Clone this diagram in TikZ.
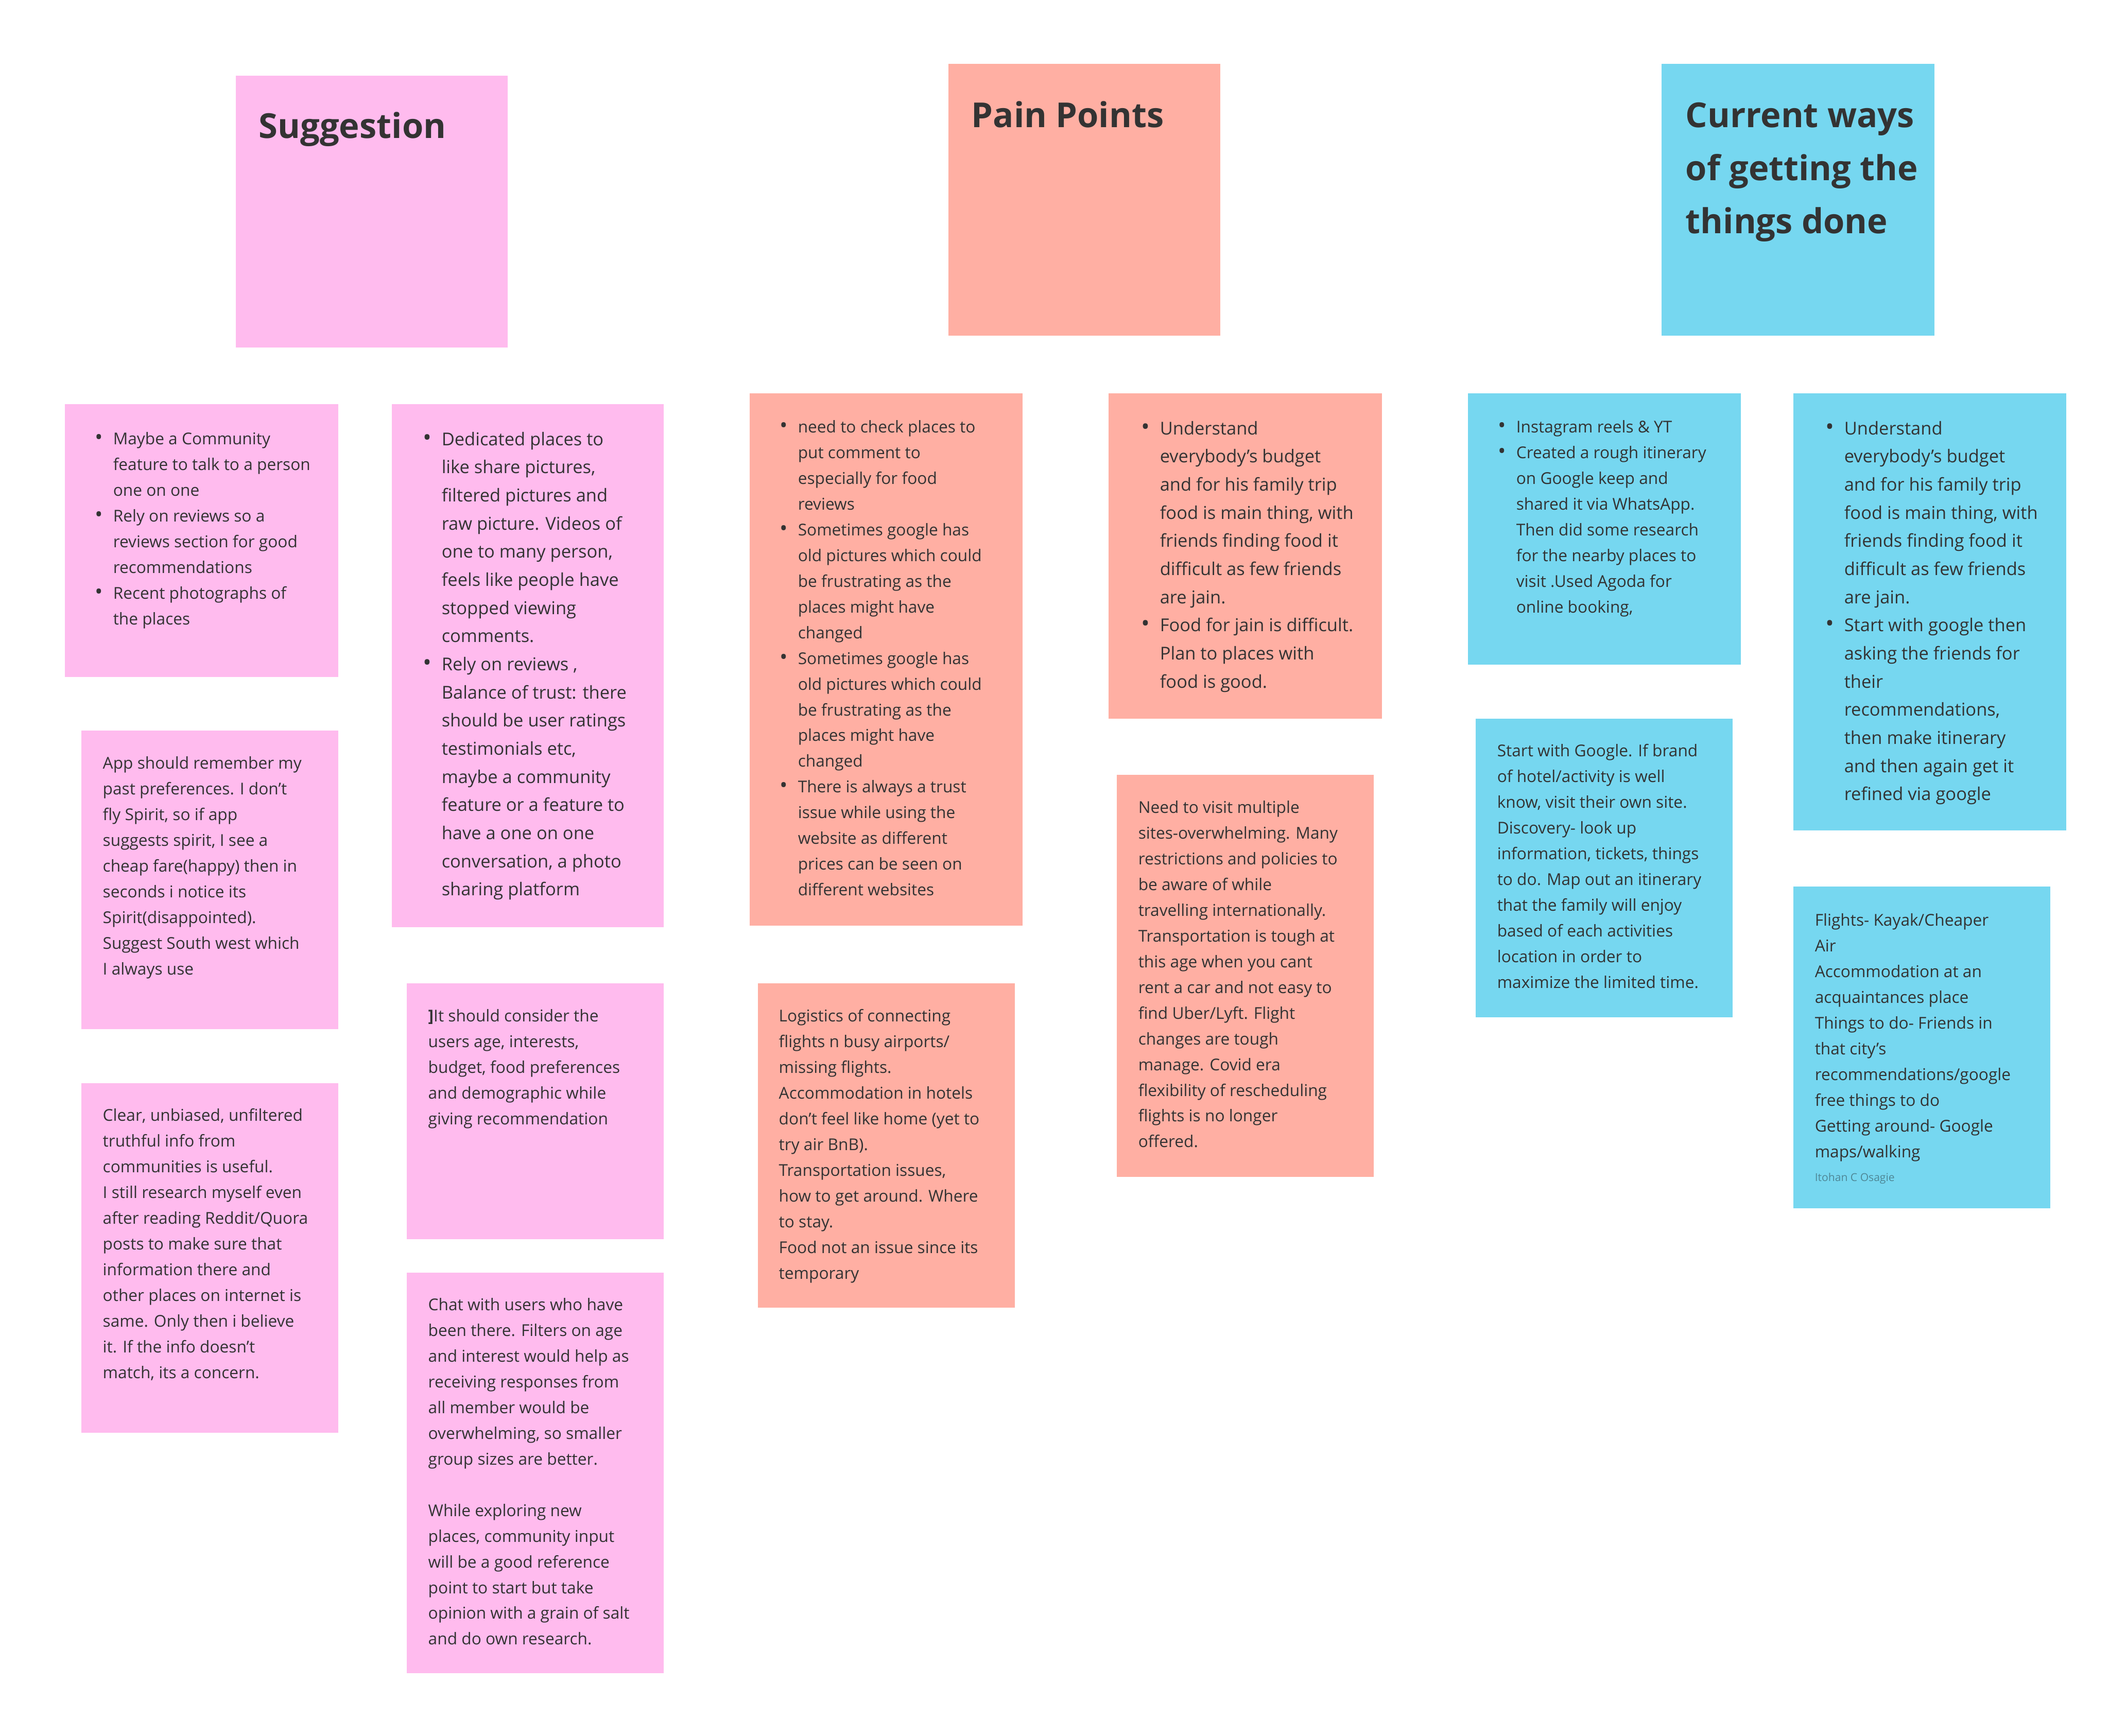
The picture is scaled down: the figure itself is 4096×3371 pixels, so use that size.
\documentclass[tikz,border=0pt]{standalone}
\usepackage{fontspec}
\setmainfont{Open Sans}
\usetikzlibrary{positioning}

\definecolor{stickypink}{HTML}{FFBBEE}
\definecolor{stickyred}{HTML}{FFAFA3}
\definecolor{stickyblue}{HTML}{76D7F0}
\definecolor{inkgray}{HTML}{333333}
\definecolor{creditgray}{HTML}{4E8796}

% bullet hanging left of the text column
\newcommand{\bul}{\makebox[0pt][r]{\scalebox{1.3}{\textbullet}\hspace{5.5pt}}}

\begin{document}
\begin{tikzpicture}[x=0.01cm, y=-0.01cm,
    sticky/.style={rectangle, anchor=north west, inner sep=0pt},
    note/.style={anchor=north west, inner sep=0pt, align=left, text=inkgray,
      font=\fontsize{9}{14.2}\selectfont},
    bignote/.style={note, font=\fontsize{9.8}{15.55}\selectfont},
    heading/.style={note, font=\fontsize{19}{29.3}\selectfont\bfseries},
    credit/.style={anchor=north west, inner sep=0pt, text=creditgray,
      font=\fontsize{6}{8}\selectfont}
  ]
  \useasboundingbox (0,0) rectangle (4096,3371);

  % headers
  \node[sticky, fill=stickypink, minimum width=5.28cm, minimum height=5.28cm] (sugg) at (457,146) {};
  \node[sticky, fill=stickyred, minimum width=5.28cm, minimum height=5.28cm] (pain) at (1841,123) {};
  \node[sticky, fill=stickyblue, minimum width=5.3cm, minimum height=5.28cm] (ways) at (3226,123) {};

  \node[heading, below right=0.50cm and 0.45cm of sugg.north west] (suggtext) {\strut Suggestion};
  \node[heading, below right=0.52cm and 0.45cm of pain.north west] (paintext) {\strut Pain Points};
  \node[heading, below right=0.52cm and 0.47cm of ways.north west] (waystext)
    {\strut Current ways\\of getting the\\things done};

  % suggestion column
  \node[sticky, fill=stickypink, minimum width=5.31cm, minimum height=5.3cm] (p1) at (125,784) {};
  \node[sticky, fill=stickypink, minimum width=5.28cm, minimum height=10.16cm] (p2) at (760,784) {};
  \node[sticky, fill=stickypink, minimum width=4.99cm, minimum height=5.8cm] (p3) at (157,1418) {};
  \node[sticky, fill=stickypink, minimum width=4.99cm, minimum height=6.79cm] (p4) at (157,2103) {};
  \node[sticky, fill=stickypink, minimum width=4.99cm, minimum height=4.97cm] (p5) at (789,1909) {};
  \node[sticky, fill=stickypink, minimum width=4.99cm, minimum height=7.78cm] (p6) at (789,2471) {};

  \node[note, below right=0.44cm and 0.94cm of p1.north west] (p1text)
    {\strut\bul Maybe a Community\\feature to talk to a person\\one on one\\
     \bul Rely on reviews so a\\reviews section for good\\recommendations\\
     \bul Recent photographs of\\the places};
  \node[bignote, below right=0.42cm and 0.97cm of p2.north west] (p2text)
    {\strut\bul Dedicated places to\\like share pictures,\\filtered pictures and\\raw picture. Videos of\\
     one to many person,\\feels like people have\\stopped viewing\\comments.\\
     \bul Rely on reviews ,\\Balance of trust: there\\should be user ratings\\testimonials etc,\\
     maybe a community\\feature or a feature to\\have a one on one\\conversation, a photo\\sharing platform};
  \node[note, below right=0.40cm and 0.42cm of p3.north west] (p3text)
    {\strut App should remember my\\past preferences. I don’t\\fly Spirit, so if app\\suggests spirit, I see a\\
     cheap fare(happy) then in\\seconds i notice its\\Spirit(disappointed).\\Suggest South west which\\I always use};
  \node[note, below right=0.39cm and 0.42cm of p4.north west] (p4text)
    {\strut Clear, unbiased, unfiltered\\truthful info from\\communities is useful.\\I still research myself even\\
     after reading Reddit/Quora\\posts to make sure that\\information there and\\other places on internet is\\
     same. Only then i believe\\it. If the info doesn’t\\match, its a concern.};
  \node[note, below right=0.40cm and 0.42cm of p5.north west] (p5text)
    {\strut\textbf{]}It should consider the\\users age, interests,\\budget, food preferences\\
     and demographic while\\giving recommendation};
  \node[note, below right=0.39cm and 0.42cm of p6.north west] (p6text)
    {\strut Chat with users who have\\been there. Filters on age\\and interest would help as\\
     receiving responses from\\all member would be\\overwhelming, so smaller\\group sizes are better.\\[14.2pt]
     While exploring new\\places, community input\\will be a good reference\\point to start but take\\
     opinion with a grain of salt\\and do own research.};

  % pain points column
  \node[sticky, fill=stickyred, minimum width=5.3cm, minimum height=10.34cm] (s1) at (1455,763) {};
  \node[sticky, fill=stickyred, minimum width=5.31cm, minimum height=6.32cm] (s2) at (2152,763) {};
  \node[sticky, fill=stickyred, minimum width=4.99cm, minimum height=7.81cm] (s3) at (2168,1504) {};
  \node[sticky, fill=stickyred, minimum width=4.99cm, minimum height=6.3cm] (s4) at (1471,1909) {};

  \node[note, below right=0.42cm and 0.94cm of s1.north west] (s1text)
    {\strut\bul need to check places to\\put comment to\\especially for food\\reviews\\
     \bul Sometimes google has\\old pictures which could\\be frustrating as the\\places might have\\changed\\
     \bul Sometimes google has\\old pictures which could\\be frustrating as the\\places might have\\changed\\
     \bul There is always a trust\\issue while using the\\website as different\\prices can be seen on\\different websites};
  \node[bignote, below right=0.42cm and 1.0cm of s2.north west] (s2text)
    {\strut\bul Understand\\everybody’s budget\\and for his family trip\\food is main thing, with\\
     friends finding food it\\difficult as few friends\\are jain.\\
     \bul Food for jain is difficult.\\Plan to places with\\food is good.};
  \node[note, below right=0.40cm and 0.42cm of s3.north west] (s3text)
    {\strut Need to visit multiple\\sites-overwhelming. Many\\restrictions and policies to\\be aware of while\\
     travelling internationally.\\Transportation is tough at\\this age when you cant\\rent a car and not easy to\\
     find Uber/Lyft. Flight\\changes are tough\\manage. Covid era\\flexibility of rescheduling\\
     flights is no longer\\offered.};
  \node[note, below right=0.40cm and 0.41cm of s4.north west] (s4text)
    {\strut Logistics of connecting\\flights n busy airports/\\missing flights.\\Accommodation in hotels\\
     don’t feel like home (yet to\\try air BnB).\\Transportation issues,\\how to get around. Where\\
     to stay.\\Food not an issue since its\\temporary};

  % current ways column
  \node[sticky, fill=stickyblue, minimum width=5.3cm, minimum height=5.27cm] (b1) at (2850,763) {};
  \node[sticky, fill=stickyblue, minimum width=5.3cm, minimum height=8.49cm] (b2) at (3482,763) {};
  \node[sticky, fill=stickyblue, minimum width=4.99cm, minimum height=5.8cm] (b3) at (2865,1395) {};
  \node[sticky, fill=stickyblue, minimum width=4.99cm, minimum height=6.25cm] (b4) at (3482,1721) {};

  \node[note, below right=0.42cm and 0.94cm of b1.north west] (b1text)
    {\strut\bul Instagram reels \& YT\\
     \bul Created a rough itinerary\\on Google keep and\\shared it via WhatsApp.\\Then did some research\\
     for the nearby places to\\visit .Used Agoda for\\online booking,};
  \node[bignote, below right=0.42cm and 0.99cm of b2.north west] (b2text)
    {\strut\bul Understand\\everybody’s budget\\and for his family trip\\food is main thing, with\\
     friends finding food it\\difficult as few friends\\are jain.\\
     \bul Start with google then\\asking the friends for\\their\\recommendations,\\
     then make itinerary\\and then again get it\\refined via google};
  \node[note, below right=0.39cm and 0.42cm of b3.north west] (b3text)
    {\strut Start with Google. If brand\\of hotel/activity is well\\know, visit their own site.\\
     Discovery- look up\\information, tickets, things\\to do. Map out an itinerary\\
     that the family will enjoy\\based of each activities\\location in order to\\maximize the limited time.};
  \node[note, below right=0.42cm and 0.42cm of b4.north west] (b4text)
    {\strut Flights- Kayak/Cheaper\\Air\\Accommodation at an\\acquaintances place\\
     Things to do- Friends in\\that city’s\\recommendations/google\\free things to do\\
     Getting around- Google\\maps/walking};
  \node[credit, below right=5.53cm and 0.42cm of b4.north west] (b4credit) {\strut Itohan C Osagie};
\end{tikzpicture}
\end{document}
